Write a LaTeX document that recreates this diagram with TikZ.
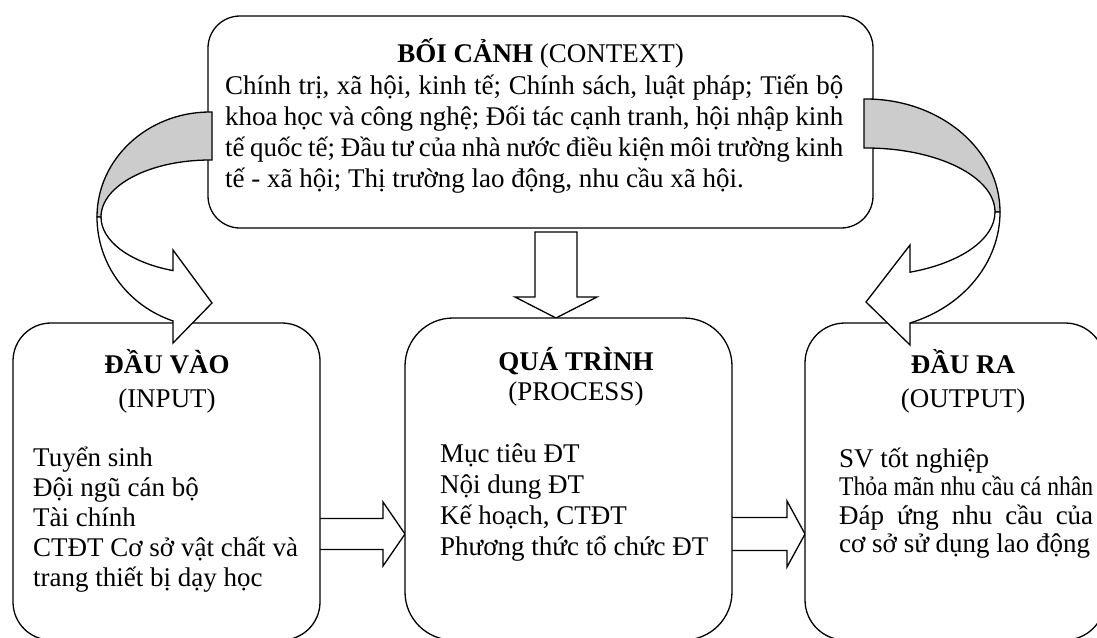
\documentclass[tikz,border=0pt]{standalone}
\usepackage{fontspec}
\setmainfont{Liberation Serif}
\usepackage{graphicx}
\newcommand{\diagfont}{\fontsize{27pt}{32pt}\selectfont}
\begin{document}
\begin{tikzpicture}[x=1pt,y=1pt,
  box/.style={draw,line width=1.3pt,fill=white},
  blockarrow/.style={draw,line width=1.3pt,fill=white,line join=miter},
  backband/.style={draw,line width=1.3pt,fill=black!20},
  txt/.style={inner sep=0pt,anchor=base west,font=\diagfont},
  ttl/.style={inner sep=0pt,anchor=base,font=\diagfont}]
\useasboundingbox (0,0) rectangle (1097,-637);
\clip (0,0) rectangle (1097,-637);

% straight block arrows
\coordinate (dtip) at (556,-318);
\draw[blockarrow] (535,-232) -- (577,-232) -- (577,-297) -- (597,-297) -- (dtip) -- (515,-297) -- (535,-297) -- cycle;
\coordinate (h1tip) at (405,-534);
\draw[blockarrow] (320,-518.5) -- (383,-518.5) -- (383,-502) -- (h1tip) -- (383,-566) -- (383,-549.5) -- (320,-549.5);
\coordinate (h2tip) at (805,-534);
\draw[blockarrow] (732,-517.5) -- (787,-517.5) -- (787,-501) -- (h2tip) -- (787,-567) -- (787,-550.5) -- (732,-550.5);

% boxes
\node[box,rounded corners=32pt,minimum width=665pt,minimum height=212pt] (ctx) at (540.5,-122) {};
\node[box,rounded corners=38pt,minimum width=307pt,minimum height=317pt] (inp) at (166.5,-481.5) {};
\node[box,rounded corners=48pt,minimum width=327pt,minimum height=322pt] (proc) at (568.5,-479) {};
\node[box,rounded corners=40pt,minimum width=300pt,minimum height=317pt] (outp) at (955,-481.5) {};

% left curved arrow
\draw[backband] (212,-112) -- (210,-112) arc[start angle=90,end angle=180,x radius=113,y radius=105]
  -- (101,-217) arc[start angle=180,end angle=90,x radius=109,y radius=57] -- (212,-160) -- cycle;
\draw[blockarrow] (97,-217) arc[start angle=180,end angle=250.89,x radius=113,y radius=110]
  -- (173,-343) -- (212,-303) -- (173,-250) -- (173,-270.6)
  arc[start angle=250.16,end angle=180,x radius=109,y radius=57] -- cycle;

% right curved arrow
\draw[backband] (864,-99) -- (866,-99) arc[start angle=90,end angle=0,x radius=134,y radius=113]
  -- (995,-212) arc[start angle=0,end angle=90,x radius=129,y radius=64] -- (864,-148) -- cycle;
\draw[blockarrow] (1000,-212) arc[start angle=0,end angle=-70.83,x radius=134,y radius=117.5]
  -- (910,-345) -- (866,-302) -- (910,-245) -- (910,-272.2)
  arc[start angle=-70.06,end angle=0,x radius=129,y radius=64] -- cycle;

% context text
\node[ttl] (ctxT) at (540.5,-62) {\textbf{BỐI CẢNH} (CONTEXT)};
\node[txt] (ctx1) at (225,-94) {\makebox[618pt][s]{Chính trị, xã hội, kinh tế; Chính sách, luật pháp; Tiến bộ}};
\node[txt] (ctx2) at (225,-125) {\makebox[618pt][s]{khoa học và công nghệ; Đối tác cạnh tranh, hội nhập kinh}};
\node[txt] (ctx3) at (225,-156) {\makebox[618pt][s]{tế quốc tế; Đầu tư của nhà nước điều kiện môi trường kinh}};
\node[txt] (ctx4) at (225,-187) {tế - xã hội; Thị trường lao động, nhu cầu xã hội.};

% input
\node[ttl] (inT) at (167,-373) {\textbf{ĐẦU VÀO}};
\node[ttl] (inS) at (167,-407) {(INPUT)};
\node[txt] (in1) at (33,-466) {Tuyển sinh};
\node[txt] (in2) at (33,-496) {Đội ngũ cán bộ};
\node[txt] (in3) at (33,-526) {Tài chính};
\node[txt] (in4) at (33,-556) {CTĐT Cơ sở vật chất và};
\node[txt] (in5) at (33,-586) {trang thiết bị dạy học};

% process
\node[ttl] (prT) at (576,-370) {\textbf{QUÁ TRÌNH}};
\node[ttl] (prS) at (576,-400) {(PROCESS)};
\node[txt] (pr1) at (440,-462) {Mục tiêu ĐT};
\node[txt] (pr2) at (440,-493) {Nội dung ĐT};
\node[txt] (pr3) at (440,-524) {Kế hoạch, CTĐT};
\node[txt] (pr4) at (440,-555) {Phương thức tổ chức ĐT};

% output
\node[ttl] (ouT) at (963,-373) {\textbf{ĐẦU RA}};
\node[ttl] (ouS) at (963,-407) {(OUTPUT)};
\node[txt] (ou1) at (839,-467) {SV tốt nghiệp};
\node[txt] (ou2) at (839,-495.5) {\resizebox{254pt}{\height}{Thỏa mãn nhu cầu cá nhân}};
\node[txt] (ou3) at (839,-524) {\makebox[254pt][s]{Đáp ứng nhu cầu của}};
\node[txt] (ou4) at (839,-552.5) {cơ sở sử dụng lao động};
\end{tikzpicture}
\end{document}
